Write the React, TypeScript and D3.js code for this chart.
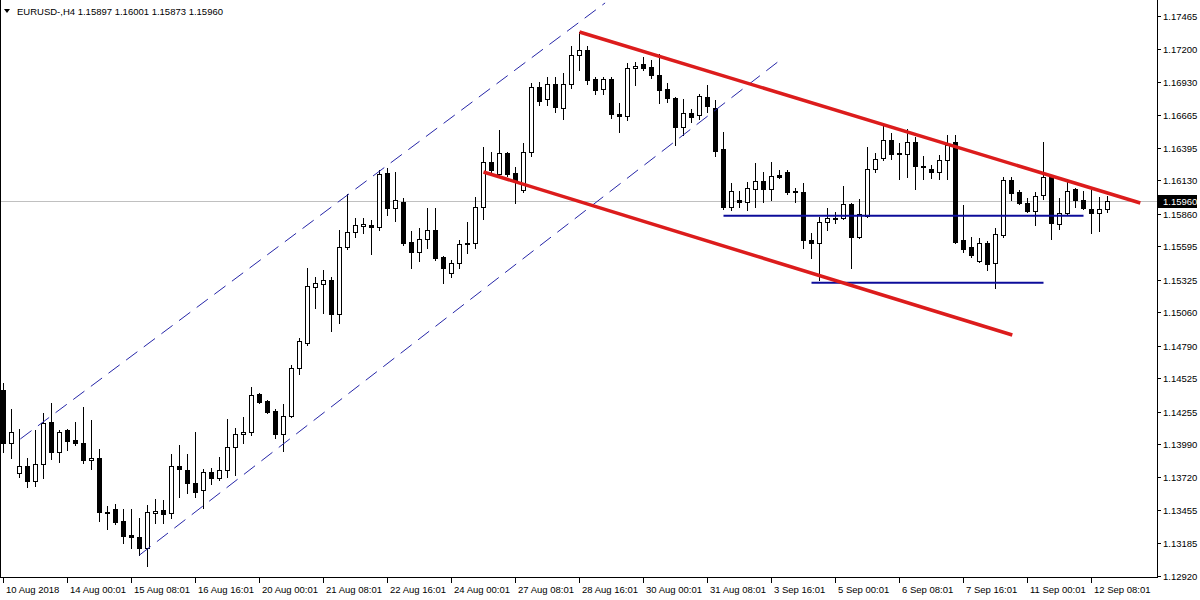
import React from "react";
import * as d3 from "d3";

const W = 1200;
const H = 600;

const symbolTitle = "EURUSD-,H4  1.15897 1.16001 1.15873 1.15960";
const lastPrice = 1.1596;

const priceTicks = [
  1.17465, 1.172, 1.1693, 1.16665, 1.16395, 1.1613, 1.1586, 1.15595, 1.15325,
  1.1506, 1.1479, 1.14525, 1.14255, 1.1399, 1.1372, 1.13455, 1.13185, 1.1292,
];

const dateLabels = [
  "10 Aug 2018", "14 Aug 00:01", "15 Aug 08:01", "16 Aug 16:01", "20 Aug 00:01",
  "21 Aug 08:01", "22 Aug 16:01", "24 Aug 00:01", "27 Aug 08:01", "28 Aug 16:01",
  "30 Aug 00:01", "31 Aug 08:01", "3 Sep 16:01", "5 Sep 00:01", "6 Sep 08:01",
  "7 Sep 16:01", "11 Sep 00:01", "12 Sep 08:01",
];
const dateLabelEvery = 8;

// [open, high, low, close] per H4 bar
const ohlc: [number, number, number, number][] = [
  [1.1443, 1.14486, 1.13926, 1.13999],
  [1.13999, 1.14275, 1.13878, 1.14089],
  [1.13756, 1.14113, 1.13723, 1.13813],
  [1.13813, 1.13878, 1.13642, 1.13691],
  [1.13691, 1.14105, 1.1365, 1.13829],
  [1.13829, 1.14243, 1.13715, 1.14162],
  [1.1417, 1.14324, 1.1387, 1.13926],
  [1.13926, 1.14105, 1.13845, 1.14089],
  [1.14105, 1.14113, 1.13943, 1.14016],
  [1.14024, 1.1417, 1.13983, 1.13999],
  [1.13999, 1.14292, 1.13837, 1.13861],
  [1.13861, 1.14186, 1.13788, 1.13878],
  [1.13878, 1.13951, 1.13366, 1.13439],
  [1.13439, 1.13488, 1.13301, 1.13431],
  [1.13464, 1.13504, 1.13342, 1.13358],
  [1.13366, 1.13464, 1.13188, 1.13245],
  [1.13253, 1.13464, 1.13147, 1.13237],
  [1.13237, 1.13391, 1.1309, 1.13147],
  [1.13147, 1.13496, 1.13001, 1.13439],
  [1.13431, 1.13545, 1.1335, 1.13448],
  [1.13456, 1.13537, 1.1335, 1.13423],
  [1.13431, 1.1391, 1.13391, 1.13813],
  [1.13813, 1.13983, 1.13561, 1.13788],
  [1.1378, 1.1391, 1.13594, 1.13675],
  [1.13675, 1.14089, 1.13561, 1.13602],
  [1.13618, 1.13788, 1.13472, 1.13764],
  [1.13764, 1.13797, 1.13667, 1.13715],
  [1.13715, 1.13886, 1.13699, 1.1378],
  [1.1378, 1.14194, 1.13723, 1.13967],
  [1.13967, 1.14121, 1.1374, 1.14072],
  [1.14072, 1.1421, 1.13999, 1.14089],
  [1.14089, 1.14454, 1.14064, 1.14389],
  [1.14397, 1.14405, 1.14324, 1.14332],
  [1.1434, 1.14348, 1.14243, 1.14251],
  [1.14259, 1.14275, 1.1404, 1.14072],
  [1.14072, 1.14316, 1.13934, 1.14219],
  [1.14219, 1.14632, 1.1421, 1.14608],
  [1.14608, 1.14852, 1.14559, 1.14827],
  [1.14811, 1.1542, 1.14795, 1.15274],
  [1.15266, 1.15347, 1.15095, 1.15298],
  [1.1529, 1.15404, 1.15055, 1.15322],
  [1.15322, 1.15347, 1.14908, 1.15046],
  [1.15046, 1.15728, 1.14973, 1.1559],
  [1.1559, 1.1602, 1.15574, 1.15712],
  [1.15712, 1.15826, 1.15671, 1.15769],
  [1.15761, 1.15826, 1.15704, 1.15777],
  [1.15769, 1.15809, 1.15533, 1.15752],
  [1.15752, 1.16215, 1.15728, 1.16183],
  [1.16191, 1.16231, 1.1585, 1.15907],
  [1.15907, 1.16199, 1.15801, 1.15972],
  [1.15955, 1.15988, 1.15606, 1.15623],
  [1.15631, 1.1572, 1.1542, 1.1555],
  [1.1555, 1.15744, 1.15477, 1.15655],
  [1.15655, 1.15907, 1.15582, 1.15728],
  [1.15728, 1.15907, 1.15485, 1.15501],
  [1.15509, 1.15515, 1.15298, 1.1542],
  [1.15379, 1.15485, 1.15347, 1.1546],
  [1.1546, 1.15647, 1.1542, 1.15615],
  [1.15615, 1.15793, 1.15541, 1.15623],
  [1.15623, 1.15996, 1.15582, 1.15915],
  [1.15915, 1.16402, 1.15817, 1.1628],
  [1.1628, 1.16361, 1.16191, 1.16215],
  [1.16183, 1.1654, 1.16175, 1.16353],
  [1.16353, 1.16361, 1.16166, 1.16183],
  [1.16191, 1.1624, 1.15947, 1.16134],
  [1.16053, 1.16434, 1.16037, 1.16361],
  [1.16361, 1.16921, 1.16329, 1.16889],
  [1.16889, 1.16929, 1.16743, 1.16775],
  [1.16791, 1.1697, 1.16743, 1.16913],
  [1.16913, 1.1697, 1.16686, 1.16726],
  [1.16718, 1.17002, 1.16629, 1.16913],
  [1.16913, 1.17222, 1.16881, 1.17149],
  [1.17149, 1.17335, 1.17027, 1.17189],
  [1.17189, 1.17222, 1.16913, 1.16946],
  [1.16954, 1.1697, 1.16832, 1.16864],
  [1.16873, 1.1697, 1.16832, 1.16954],
  [1.16954, 1.1697, 1.16637, 1.1667],
  [1.1667, 1.16759, 1.16524, 1.16653],
  [1.16653, 1.17084, 1.16621, 1.17043],
  [1.17043, 1.17092, 1.16905, 1.17059],
  [1.17075, 1.17132, 1.17027, 1.17043],
  [1.17051, 1.17108, 1.16962, 1.16986],
  [1.16986, 1.17157, 1.16759, 1.16864],
  [1.16873, 1.16921, 1.16767, 1.16799],
  [1.16799, 1.16808, 1.16418, 1.16564],
  [1.16564, 1.16791, 1.16499, 1.16678],
  [1.16678, 1.1671, 1.16605, 1.16645],
  [1.16661, 1.16832, 1.16629, 1.16816],
  [1.16808, 1.16905, 1.16686, 1.16735],
  [1.16718, 1.16783, 1.16329, 1.16369],
  [1.16386, 1.16524, 1.15899, 1.15915],
  [1.15915, 1.1611, 1.1589, 1.16045],
  [1.15972, 1.16045, 1.15915, 1.15955],
  [1.15955, 1.16118, 1.1589, 1.16069],
  [1.16061, 1.16272, 1.15915, 1.16126],
  [1.16126, 1.16199, 1.15955, 1.16061],
  [1.16061, 1.1628, 1.15972, 1.16166],
  [1.16175, 1.16215, 1.1615, 1.16158],
  [1.16199, 1.16215, 1.1602, 1.16037],
  [1.16045, 1.16069, 1.15955, 1.16037],
  [1.16037, 1.1611, 1.15582, 1.15647],
  [1.15647, 1.15704, 1.15501, 1.15623],
  [1.15623, 1.15834, 1.15322, 1.15793],
  [1.15793, 1.15907, 1.15728, 1.15826],
  [1.15826, 1.15874, 1.15785, 1.15817],
  [1.15826, 1.16085, 1.15817, 1.15939],
  [1.15939, 1.15947, 1.1542, 1.15671],
  [1.15671, 1.1598, 1.15663, 1.15858],
  [1.15842, 1.16402, 1.15834, 1.16223],
  [1.16223, 1.16353, 1.16199, 1.16304],
  [1.16313, 1.1658, 1.16296, 1.16459],
  [1.16459, 1.16515, 1.16304, 1.16345],
  [1.16353, 1.16434, 1.16142, 1.16345],
  [1.16345, 1.16548, 1.16158, 1.16442],
  [1.16442, 1.16483, 1.16061, 1.16248],
  [1.16248, 1.16329, 1.16142, 1.1624],
  [1.16223, 1.16256, 1.1615, 1.16199],
  [1.16199, 1.16337, 1.16142, 1.16296],
  [1.16296, 1.16499, 1.16142, 1.16418],
  [1.16442, 1.16499, 1.15623, 1.15631],
  [1.15647, 1.15931, 1.1555, 1.15574],
  [1.1559, 1.15671, 1.15509, 1.15525],
  [1.15477, 1.15663, 1.15468, 1.15623],
  [1.15623, 1.15639, 1.15404, 1.15452],
  [1.1546, 1.15744, 1.15257, 1.15696],
  [1.15688, 1.16158, 1.15671, 1.16134],
  [1.16134, 1.16158, 1.15972, 1.16028],
  [1.16037, 1.16053, 1.15939, 1.15947],
  [1.15947, 1.15988, 1.15874, 1.15882],
  [1.15882, 1.16037, 1.15769, 1.16004],
  [1.16012, 1.16442, 1.1598, 1.16158],
  [1.16166, 1.16175, 1.15655, 1.15785],
  [1.15777, 1.15988, 1.15736, 1.15866],
  [1.15866, 1.16118, 1.1585, 1.16045],
  [1.16061, 1.16069, 1.15915, 1.15972],
  [1.15972, 1.16045, 1.15899, 1.15907],
  [1.15899, 1.16053, 1.15704, 1.15866],
  [1.15866, 1.15996, 1.1572, 1.15899],
  [1.15897, 1.16001, 1.15873, 1.1596],
];

// drawn objects: [barIndex, price] anchor pairs
const channelUpper: [number, number][] = [[2.1, 1.14032], [75.2, 1.17571]];
const channelLower: [number, number][] = [[17, 1.1309], [97.1, 1.17108]];
const redUpper: [number, number][] = [[72, 1.17335], [142.1, 1.15947]];
const redLower: [number, number][] = [[60, 1.16199], [126.1, 1.14876]];
const blueUpper: [number, number][] = [[90, 1.15844], [135, 1.15844]];
const blueLower: [number, number][] = [[101, 1.153], [130, 1.153]];

const FONT = "'Liberation Sans', Arial, sans-serif";

export default function App() {
  const plotRight = 1157;
  const plotBottom = 577;

  const x = d3.scaleLinear().domain([0, ohlc.length - 1]).range([3.5, 3.5 + 8 * (ohlc.length - 1)]);
  const y = d3.scaleLinear().domain([1.1292, 1.17465]).range([576, 16]);

  const line = d3
    .line<[number, number]>()
    .x((d) => x(d[0]))
    .y((d) => y(d[1]));

  const lastY = Math.round(y(lastPrice)) + 0.5;

  return (
    <svg
      width={W}
      height={H}
      style={{ position: "absolute", left: 0, top: 0, display: "block", background: "#fff" }}
      fontFamily={FONT}
    >
      <defs>
        <clipPath id="plot">
          <rect x={1} y={0} width={plotRight - 1} height={plotBottom} />
        </clipPath>
      </defs>
      <rect x={0} y={0} width={W} height={H} fill="#fff" />

      {/* current price line */}
      <line x1={1} x2={plotRight} y1={lastY} y2={lastY} stroke="#c0c0c0" strokeWidth={1} shapeRendering="crispEdges" />

      {/* candles */}
      <g clipPath="url(#plot)" shapeRendering="crispEdges">
        {ohlc.map(([o, h, l, c], i) => {
          const cx = Math.round(x(i) - 0.5);
          const yh = Math.round(y(h));
          const yl = Math.round(y(l));
          const yo = Math.round(y(o));
          const yc = Math.round(y(c));
          const bull = c >= o;
          const top = Math.min(yo, yc);
          const bot = Math.max(yo, yc);
          return (
            <g key={i}>
              <line x1={cx + 0.5} x2={cx + 0.5} y1={yh} y2={yl + 1} stroke="#000" strokeWidth={1} />
              {bull ? (
                <rect x={cx - 1.5} y={top + 0.5} width={4} height={Math.max(1, bot - top)} fill="#fff" stroke="#000" strokeWidth={1} />
              ) : (
                <rect x={cx - 2} y={top} width={5} height={Math.max(1, bot - top + 1)} fill="#000" />
              )}
            </g>
          );
        })}
      </g>

      {/* analysis objects */}
      <g clipPath="url(#plot)" fill="none">
        <path d={line(channelUpper) || ""} stroke="#2626a8" strokeWidth={1} strokeDasharray="14 8" />
        <path d={line(channelLower) || ""} stroke="#2626a8" strokeWidth={1} strokeDasharray="14 8" />
        <path d={line(blueUpper) || ""} stroke="#0c0c9a" strokeWidth={2} />
        <path d={line(blueLower) || ""} stroke="#0c0c9a" strokeWidth={2} />
        <path d={line(redUpper) || ""} stroke="#dc1c1c" strokeWidth={3.5} />
        <path d={line(redLower) || ""} stroke="#dc1c1c" strokeWidth={3.5} />
      </g>

      {/* frame */}
      <g stroke="#000" strokeWidth={1} shapeRendering="crispEdges">
        <line x1={0.5} x2={0.5} y1={0} y2={plotBottom + 0.5} />
        <line x1={0} x2={plotRight + 0.5} y1={plotBottom + 0.5} y2={plotBottom + 0.5} />
        <line x1={plotRight + 0.5} x2={plotRight + 0.5} y1={0} y2={plotBottom + 1} />
      </g>

      {/* price axis */}
      <g fontSize={9.5} fill="#000">
        {priceTicks.map((v) => {
          const ty = Math.round(y(v)) + 0.5;
          return (
            <g key={v}>
              <line x1={plotRight + 1} x2={plotRight + 4} y1={ty} y2={ty} stroke="#000" shapeRendering="crispEdges" />
              <text x={plotRight + 6} y={ty} dominantBaseline="central">
                {v.toFixed(5)}
              </text>
            </g>
          );
        })}
      </g>

      {/* last price label */}
      <rect x={plotRight + 1} y={lastY - 6.5} width={W - plotRight - 4} height={13} fill="#000" />
      <text x={plotRight + 6} y={lastY} dominantBaseline="central" fontSize={9.5} fill="#fff">
        {lastPrice.toFixed(5)}
      </text>

      {/* time axis */}
      <g fontSize={9.5} fill="#000">
        {dateLabels.map((lab, k) => {
          const cx = Math.round(x(k * dateLabelEvery) - 0.5) + 0.5;
          return (
            <g key={lab}>
              <line x1={cx} x2={cx} y1={plotBottom + 1} y2={plotBottom + 6} stroke="#000" shapeRendering="crispEdges" />
              <text x={cx + 2.5} y={plotBottom + 16}>
                {lab}
              </text>
            </g>
          );
        })}
      </g>

      {/* header */}
      <path d="M4,9 L10,9 L7,13 Z" fill="#000" />
      <text x={17} y={15} fontSize={9.5} fill="#000">
        {symbolTitle}
      </text>
    </svg>
  );
}
